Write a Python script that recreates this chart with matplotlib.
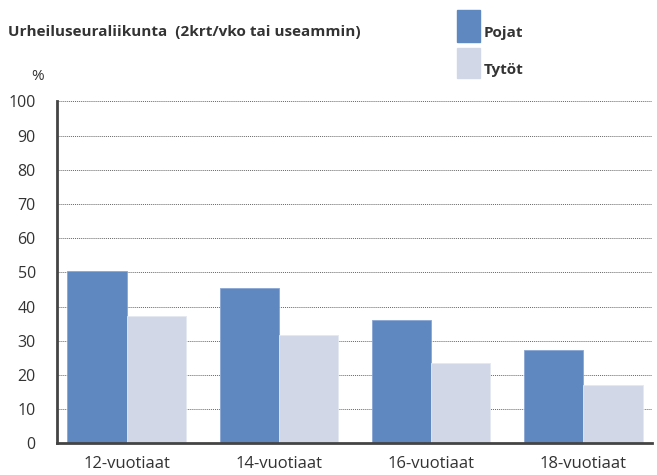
import matplotlib
matplotlib.use('Agg')
from matplotlib import pyplot as plt
import numpy as np

# data
ages = ['12-vuotiaat', '14-vuotiaat', '16-vuotiaat', '18-vuotiaat']
pojat = [50.4, 45.4, 36.1, 27.4]
tytot = [37.3, 31.7, 23.5, 17.1]
yticks = [0, 10, 20, 30, 40, 50, 60, 70, 80, 90, 100]

col_p = '#5f88c0'
col_t = '#d1d7e7'
txt = '#333333'

plt.rcParams['font.family'] = ['Open Sans', 'DejaVu Sans']

fig = plt.figure(figsize=(6.57, 4.75), dpi=100)
ax = fig.add_axes([0.0863, 0.0667, 0.9057, 0.72])

x = np.arange(len(ages))
w = 0.39
ax.bar(x - w/2, pojat, w, color=col_p, edgecolor='#8aa6d2', linewidth=0.6, zorder=3)
ax.bar(x + w/2, tytot, w, color=col_t, edgecolor='#e4e8f1', linewidth=0.6, zorder=3)

ax.set_ylim(0, 100)
ax.set_xlim(-0.46, 3.45)
ax.set_yticks(yticks)
ax.set_yticklabels([str(v) for v in yticks], fontsize=11.5, color=txt)
ax.set_xticks(x)
ax.set_xticklabels(ages, fontsize=12, color=txt)
ax.tick_params(axis='y', length=0, pad=15)
ax.tick_params(axis='x', length=0, pad=9)
for v in yticks[1:]:
    ax.axhline(v, color='#666666', linestyle=(0, (1, 1)), linewidth=0.7, zorder=1)

for s in ['top', 'right']:
    ax.spines[s].set_visible(False)
for s in ['left', 'bottom']:
    ax.spines[s].set_color('#444444')
    ax.spines[s].set_linewidth(2)
    ax.spines[s].set_zorder(4)

fig.text(8/657, 1 - 32/475, 'Urheiluseuraliikunta  (2krt/vko tai useammin)',
         fontsize=11, fontweight='bold', color=txt, va='center', ha='left')
fig.text(38/657, 1 - 76/475, '%', fontsize=11, color=txt, va='center', ha='center')

# legend boxes
fig.patches.append(plt.Rectangle((457/657, 1 - 42/475), 23/657, 32/475,
                                 transform=fig.transFigure, color=col_p))
fig.patches.append(plt.Rectangle((457/657, 1 - 78/475), 23/657, 30/475,
                                 transform=fig.transFigure, color=col_t))
fig.text(484/657, 1 - 33/475, 'Pojat', fontsize=11, fontweight='bold', color=txt, va='center')
fig.text(484/657, 1 - 70/475, 'Tytöt', fontsize=11, fontweight='bold', color=txt, va='center')

fig.savefig('out.png', dpi=100)
